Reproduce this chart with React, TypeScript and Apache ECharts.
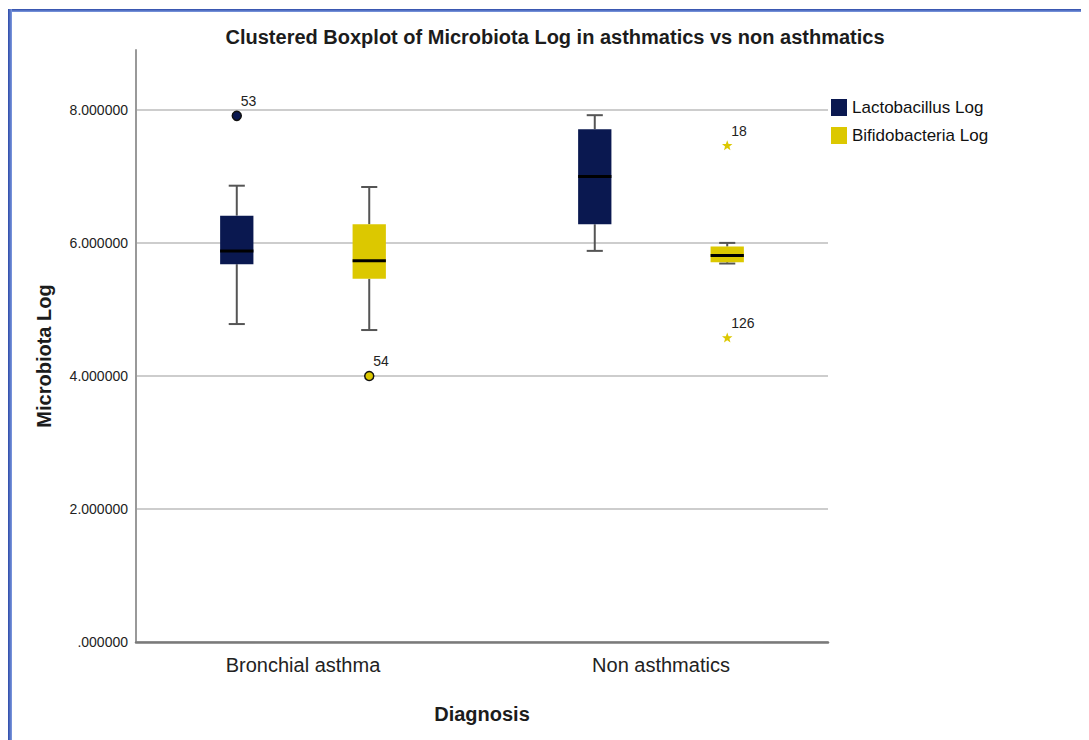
import React, { useEffect, useRef } from "react";
import * as echarts from "echarts";

// ---- data ----
const categories = ["Bronchial asthma", "Non asthmatics"];
const seriesNames = ["Lactobacillus Log", "Bifidobacteria Log"];
// five-number summaries per category: [min, Q1, median, Q3, max]
const lactobacillusStats = [
  [4.78, 5.68, 5.88, 6.41, 6.86],
  [5.88, 6.28, 7.0, 7.71, 7.92],
];
const bifidobacteriaStats = [
  [4.69, 5.46, 5.73, 6.28, 6.84],
  [5.69, 5.71, 5.81, 5.945, 6.0],
];
// outliers: [categoryIndex, value]
const lactobacillusOutliers = [[0, 7.91]];
const lactobacillusOutlierIds = ["53"];
const lactobacillusOutlierKinds = ["circle"];
const bifidobacteriaOutliers = [
  [0, 4.0],
  [1, 7.46],
  [1, 4.57],
];
const bifidobacteriaOutlierIds = ["54", "18", "126"];
const bifidobacteriaOutlierKinds = ["circle", "star", "star"];
const yTicks = [0, 2, 4, 6, 8];

// ---- styles ----
const NAVY = "#0a1850";
const YELLOW = "#dcc800";
const FONT = '"Liberation Sans", Arial, sans-serif';
const OFFSETS = [-0.185, 0.185];
const BOX_FRAC = 0.093;
const CAP_FRAC = 0.045;

function starPoints(cx: number, cy: number, ro: number, ri: number) {
  const pts: number[][] = [];
  for (let i = 0; i < 10; i++) {
    const r = i % 2 === 0 ? ro : ri;
    const a = -Math.PI / 2 + (i * Math.PI) / 5;
    pts.push([cx + r * Math.cos(a), cy + r * Math.sin(a)]);
  }
  return pts;
}

function makeBoxRender(offsetFrac: number, color: string) {
  return (params: any, api: any) => {
    const cat = api.value(0);
    const band = api.size([1, 0])[0];
    const dx = offsetFrac * band;
    const halfBox = (BOX_FRAC * band) / 2;
    const halfCap = (CAP_FRAC * band) / 2;
    const pMin = api.coord([cat, api.value(1)]);
    const pQ1 = api.coord([cat, api.value(2)]);
    const pMed = api.coord([cat, api.value(3)]);
    const pQ3 = api.coord([cat, api.value(4)]);
    const pMax = api.coord([cat, api.value(5)]);
    const x = pMin[0] + dx;
    const ws = { stroke: "#555", lineWidth: 2 };
    return {
      type: "group",
      children: [
        { type: "line", shape: { x1: x, y1: pMax[1], x2: x, y2: pQ3[1] }, style: ws },
        { type: "line", shape: { x1: x, y1: pQ1[1], x2: x, y2: pMin[1] }, style: ws },
        { type: "line", shape: { x1: x - halfCap, y1: pMax[1], x2: x + halfCap, y2: pMax[1] }, style: ws },
        { type: "line", shape: { x1: x - halfCap, y1: pMin[1], x2: x + halfCap, y2: pMin[1] }, style: ws },
        {
          type: "rect",
          shape: { x: x - halfBox, y: pQ3[1], width: 2 * halfBox, height: pQ1[1] - pQ3[1] },
          style: { fill: color },
        },
        {
          type: "line",
          shape: { x1: x - halfBox, y1: pMed[1], x2: x + halfBox, y2: pMed[1] },
          style: { stroke: "#000", lineWidth: 3 },
        },
      ],
    };
  };
}

function makeOutlierRender(offsetFrac: number, color: string, ids: string[], kinds: string[]) {
  return (params: any, api: any) => {
    const p = api.coord([api.value(0), api.value(1)]);
    const band = api.size([1, 0])[0];
    const x = p[0] + offsetFrac * band;
    const y = p[1];
    const kind = kinds[params.dataIndex];
    const marker =
      kind === "star"
        ? { type: "polygon", shape: { points: starPoints(x, y, 5.5, 2.3) }, style: { fill: color } }
        : {
            type: "circle",
            shape: { cx: x, cy: y, r: 4.5 },
            style: { fill: color, stroke: "#111", lineWidth: 1.5 },
          };
    return {
      type: "group",
      children: [
        marker,
        {
          type: "text",
          x: x + 4,
          y: y - 15,
          style: {
            text: ids[params.dataIndex],
            fill: "#222",
            fontSize: 14,
            fontFamily: FONT,
            align: "left",
            verticalAlign: "middle",
          },
        },
      ],
    };
  };
}

function categoryLabel(v: number) {
  const i = Math.round(v);
  return Math.abs(v - i) < 1e-6 && categories[i] ? categories[i] : "";
}

export default function App() {
  const ref = useRef<HTMLDivElement>(null);

  useEffect(() => {
    if (!ref.current) return;
    const chart = echarts.init(ref.current, undefined, { renderer: "svg" });
    const lactoData = lactobacillusStats.map((s, i) => [i, ...s]);
    const bifidoData = bifidobacteriaStats.map((s, i) => [i, ...s]);

    chart.setOption({
      animation: false,
      textStyle: { fontFamily: FONT },
      title: {
        text: "Clustered Boxplot of Microbiota Log in asthmatics vs non asthmatics",
        left: 547,
        textAlign: "center",
        top: 19,
        padding: 0,
        textStyle: { fontSize: 20, fontWeight: "bold", color: "#1c1c1c", fontFamily: FONT },
      },
      legend: {
        data: seriesNames,
        orient: "vertical",
        left: 823,
        top: 91,
        padding: 0,
        itemWidth: 16,
        itemHeight: 17,
        itemGap: 11,
        icon: "rect",
        selectedMode: false,
        textStyle: { fontSize: 17, color: "#111", fontFamily: FONT },
      },
      grid: { left: 128, top: 42, width: 692, height: 592, outerBoundsMode: "none" },
      xAxis: {
        type: "value",
        min: -0.4665,
        max: 1.4665,
        name: "Diagnosis",
        nameLocation: "middle",
        nameGap: 62,
        nameTextStyle: { fontSize: 20, fontWeight: "bold", color: "#1c1c1c", fontFamily: FONT },
        axisLine: { show: true, onZero: false, lineStyle: { color: "#7a7a7a", width: 2.5 } },
        axisTick: { show: false },
        splitLine: { show: false },
        axisLabel: {
          margin: 13,
          fontSize: 20,
          color: "#222",
          fontFamily: FONT,
          customValues: categories.map((_, i) => i),
          formatter: categoryLabel,
        },
      },
      yAxis: {
        type: "value",
        min: 0,
        max: 8.9,
        interval: 2,
        name: "Microbiota Log",
        nameLocation: "middle",
        nameGap: 82,
        nameTextStyle: {
          fontSize: 20,
          fontWeight: "bold",
          color: "#1c1c1c",
          fontFamily: FONT,
          padding: [0, 20, 0, 0],
        },
        axisLine: { show: true, onZero: false, lineStyle: { color: "#999", width: 2 } },
        axisTick: { show: false },
        splitLine: { show: true, showMaxLine: false, lineStyle: { color: "#bdbdbd", width: 1.5 } },
        axisLabel: {
          margin: 8,
          fontSize: 14,
          color: "#222",
          fontFamily: FONT,
          showMaxLabel: false,
          formatter: (v: number) =>
            yTicks.includes(v) ? (v === 0 ? ".000000" : v.toFixed(6)) : "",
        },
      },
      series: [
        {
          name: seriesNames[0],
          type: "custom",
          itemStyle: { color: NAVY },
          encode: { x: 0, y: [1, 2, 3, 4, 5] },
          data: lactoData,
          renderItem: makeBoxRender(OFFSETS[0], NAVY),
          z: 3,
        },
        {
          name: seriesNames[1],
          type: "custom",
          itemStyle: { color: YELLOW },
          encode: { x: 0, y: [1, 2, 3, 4, 5] },
          data: bifidoData,
          renderItem: makeBoxRender(OFFSETS[1], YELLOW),
          z: 3,
        },
        {
          name: seriesNames[0],
          type: "custom",
          itemStyle: { color: NAVY },
          encode: { x: 0, y: 1 },
          data: lactobacillusOutliers,
          renderItem: makeOutlierRender(OFFSETS[0], NAVY, lactobacillusOutlierIds, lactobacillusOutlierKinds),
          z: 4,
        },
        {
          name: seriesNames[1],
          type: "custom",
          itemStyle: { color: YELLOW },
          encode: { x: 0, y: 1 },
          data: bifidobacteriaOutliers,
          renderItem: makeOutlierRender(OFFSETS[1], YELLOW, bifidobacteriaOutlierIds, bifidobacteriaOutlierKinds),
          z: 4,
        },
      ],
    });
    return () => chart.dispose();
  }, []);

  return (
    <div style={{ position: "relative", width: 1081, height: 732 }}>
      <div ref={ref} style={{ position: "absolute", left: 0, top: 0, width: 1081, height: 732 }} />
      <div
        style={{
          position: "absolute",
          left: 0,
          top: 1,
          width: 1081,
          height: 3,
          background: "linear-gradient(#2c4aa8, #7f9be0)",
        }}
      />
      <div
        style={{
          position: "absolute",
          left: 0,
          top: 1,
          width: 4,
          height: 731,
          background: "linear-gradient(to right, #2c4aa8, #7f9be0)",
        }}
      />
    </div>
  );
}
